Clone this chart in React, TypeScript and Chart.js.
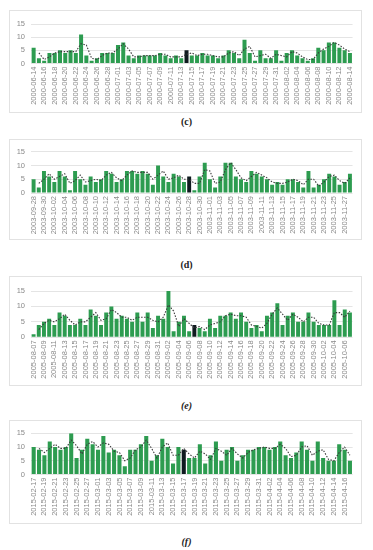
import React, { useEffect, useRef } from "react";
import { Chart, registerables } from "chart.js";

Chart.register(...registerables);

// ---------- data ----------
const valuesC = [6,2,1,4,4,5,4,5,4,11,3,1,2,4,4,4,7,8,3,2,3,3,3,3,4,3,2,3,2,5,3,3,4,3,3,2,3,5,4,2,9,4,1,5,2,2,5,1,4,5,3,2,1,2,6,5,8,8,6,5,4];
const valuesD = [5,2,8,6,4,8,6,1,8,5,3,6,4,5,8,7,4,5,8,8,7,8,7,3,10,6,4,7,6,4,6,1,6,11,5,2,6,11,11,6,5,4,8,7,6,5,3,4,3,5,5,4,2,8,2,3,5,7,6,3,4,7];
const valuesE = [1,4,5,6,4,8,7,4,4,6,4,9,7,4,8,10,6,7,6,5,8,5,8,3,7,6,15,2,5,7,2,4,3,2,6,3,7,7,8,6,8,5,3,4,2,7,8,11,4,7,8,5,5,8,5,4,4,4,12,4,9,8];
const valuesF = [10,9,7,12,10,9,10,15,6,9,13,11,9,14,8,9,7,3,9,9,11,14,5,7,13,10,4,10,9,6,6,11,4,7,12,5,9,10,5,7,9,9,10,10,9,10,12,7,6,8,12,9,5,12,6,5,5,11,9,5];

const rangeC = ["2000-06-14", "2000-08-14"];
const skipC = ["2000-06-30"];
const rangeD = ["2003-09-28", "2003-11-28"];
const rangeE = ["2005-08-07", "2005-10-07"];
const rangeF = ["2015-02-17", "2015-04-17"];

const highlightC = "2000-07-14";
const highlightD = "2003-10-28";
const highlightE = "2005-09-07";
const highlightF = "2015-03-17";

const yTicks = [0, 5, 10, 15];

// ---------- helpers ----------
function dateRange(start: string, end: string, skip: string[] = []): string[] {
  const out: string[] = [];
  const d = new Date(start + "T00:00:00Z");
  const e = new Date(end + "T00:00:00Z");
  while (d.getTime() <= e.getTime()) {
    const s = d.toISOString().slice(0, 10);
    if (!skip.includes(s)) out.push(s);
    d.setUTCDate(d.getUTCDate() + 1);
  }
  return out;
}

function movingAverage2(v: number[]): (number | null)[] {
  return v.map((x, i) => (i === 0 ? null : (v[i - 1] + x) / 2));
}

const GREEN = "#2d9c50";
const BLACK = "#0f1a1f";
const FONT = "'Liberation Sans', Arial, sans-serif";

type PanelProps = {
  labels: string[];
  values: number[];
  highlight: string;
  boxTop: number;
  boxBottom: number;
  plotTop: number;
  plotBottom: number;
};

function Panel({ labels, values, highlight, boxTop, boxBottom, plotTop, plotBottom }: PanelProps) {
  const ref = useRef<HTMLCanvasElement | null>(null);
  const left = 9;
  const width = 353;
  const height = boxBottom - boxTop;

  useEffect(() => {
    if (!ref.current) return;
    const colors = labels.map((l) => (l === highlight ? BLACK : GREEN));
    const chart = new Chart(ref.current, {
      type: "bar",
      data: {
        labels,
        datasets: [
          {
            type: "line",
            data: movingAverage2(values),
            borderColor: "#3a3a3a",
            borderWidth: 1.1,
            borderDash: [1.5, 1.5],
            pointRadius: 0,
            fill: false,
            tension: 0,
            order: 0,
          } as any,
          {
            type: "bar",
            data: values,
            backgroundColor: colors,
            barPercentage: 1,
            categoryPercentage: 0.76,
            order: 1,
          },
        ],
      },
      options: {
        responsive: false,
        devicePixelRatio: 1,
        animation: false,
        layout: { padding: { top: plotTop - boxTop, right: 8, bottom: 0, left: 0 } },
        plugins: { legend: { display: false }, tooltip: { enabled: false } },
        scales: {
          x: {
            grid: { display: false, drawTicks: false },
            border: { display: false },
            ticks: {
              autoSkip: false,
              maxRotation: 90,
              minRotation: 90,
              padding: 3,
              color: "#8a8a8a",
              font: { family: FONT, size: 7.5 },
              callback: (_v: any, i: number) => (i % 2 === 0 ? labels[i] : ""),
            },
            afterFit: (s: any) => {
              s.height = boxBottom - plotBottom;
            },
          },
          y: {
            min: 0,
            max: 15,
            afterBuildTicks: (s: any) => {
              s.ticks = yTicks.map((v) => ({ value: v }));
            },
            grid: { color: "#e4e4e4", lineWidth: 1, drawTicks: false },
            border: { display: false },
            ticks: {
              padding: 6,
              color: "#8a8a8a",
              font: { family: FONT, size: 7.5 },
            },
            afterFit: (s: any) => {
              s.width = 22;
            },
          },
        },
      },
    });
    return () => chart.destroy();
  }, []);

  return (
    <>
      <div
        style={{
          position: "absolute",
          left,
          top: boxTop,
          width,
          height,
          border: "1px solid #e2e2e2",
          boxSizing: "border-box",
          background: "#fff",
        }}
      />
      <canvas
        ref={ref}
        width={width}
        height={height}
        style={{ position: "absolute", left, top: boxTop, width, height }}
      />
    </>
  );
}

function Caption({ text, y, italic }: { text: string; y: number; italic?: boolean }) {
  return (
    <div
      style={{
        position: "absolute",
        left: 0,
        width: 373,
        top: y - 7,
        height: 14,
        lineHeight: "14px",
        textAlign: "center",
        fontFamily: "'Liberation Serif', serif",
        fontWeight: "bold",
        fontStyle: italic ? "italic" : "normal",
        fontSize: 10,
        color: "#222",
      }}
    >
      {text}
    </div>
  );
}

export default function App() {
  const labelsC = dateRange(rangeC[0], rangeC[1], skipC);
  const labelsD = dateRange(rangeD[0], rangeD[1]);
  const labelsE = dateRange(rangeE[0], rangeE[1]);
  const labelsF = dateRange(rangeF[0], rangeF[1]);
  return (
    <div style={{ position: "absolute", left: 0, top: 0, width: 373, height: 550, background: "#fff", overflow: "hidden" }}>
      <Panel labels={labelsC} values={valuesC} highlight={highlightC} boxTop={10} boxBottom={113} plotTop={24} plotBottom={63.5} />
      <Caption text="(c)" y={122} />
      <Panel labels={labelsD} values={valuesD} highlight={highlightD} boxTop={139} boxBottom={240} plotTop={151.7} plotBottom={193} />
      <Caption text="(d)" y={265} />
      <Panel labels={labelsE} values={valuesE} highlight={highlightE} boxTop={276} boxBottom={386} plotTop={291} plotBottom={337.3} />
      <Caption text="(e)" y={406} italic />
      <Panel labels={labelsF} values={valuesF} highlight={highlightF} boxTop={420} boxBottom={524} plotTop={433.3} plotBottom={474.5} />
      <Caption text="(f)" y={542} italic />
    </div>
  );
}
